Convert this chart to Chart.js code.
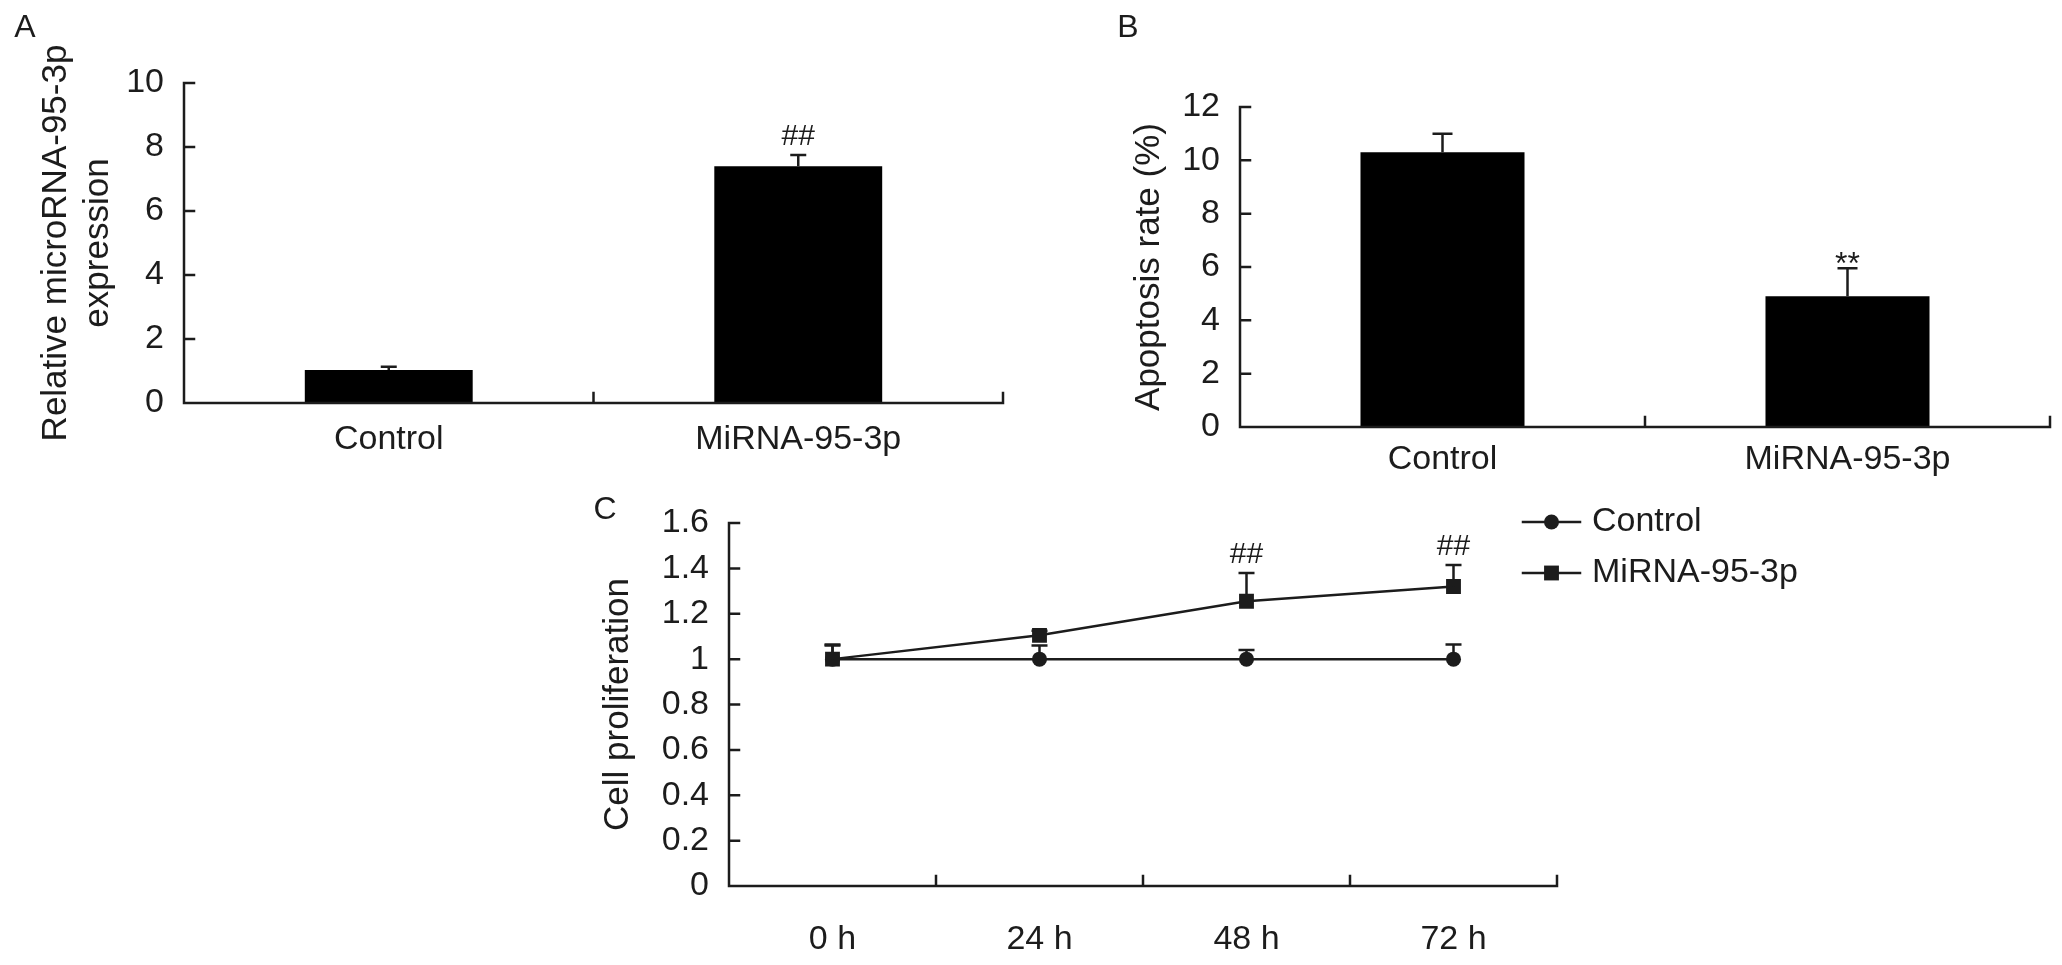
<!DOCTYPE html>
<html>
<head>
<meta charset="utf-8">
<script src="https://cdn.jsdelivr.net/npm/chart.js@4.4.0/dist/chart.umd.min.js"></script>
<style>
  html, body { margin: 0; padding: 0; background: #fff; }
  body { width: 2062px; height: 965px; position: relative; overflow: hidden; }
  canvas { position: absolute; }
  #panelA { left: 0; top: 0; }
  #panelB { left: 1035px; top: 0; }
  #panelC { left: 440px; top: 470px; }
</style>
</head>
<body>
<canvas id="panelA" width="1035" height="500"></canvas>
<canvas id="panelB" width="1027" height="500"></canvas>
<canvas id="panelC" width="1622" height="495"></canvas>
<script>
const FONT = '"Liberation Sans", Arial, Helvetica, sans-serif';
const INK = '#1c1c1c';

// A: relative microRNA-95-3p expression
const groupsA = ['Control', 'MiRNA-95-3p'];
const expressionA = [1.03, 7.4];
const expressionErrA = [0.1, 0.35];

// B: apoptosis rate (%)
const groupsB = ['Control', 'MiRNA-95-3p'];
const apoptosisB = [10.3, 4.9];
const apoptosisErrB = [0.7, 1.05];

// C: cell proliferation over time
const timesC = ['0 h', '24 h', '48 h', '72 h'];
const controlC = [1, 1, 1, 1];
const controlErrC = [0.06, 0.06, 0.04, 0.065];
const mirnaC = [1, 1.105, 1.255, 1.32];
const mirnaErrC = [0.065, 0.02, 0.125, 0.095];

// significance marks: [dataset, point, text]
const marksA = [[0, 1, '##']];
const marksB = [[0, 1, '**']];
const marksC = [[1, 2, '##'], [1, 3, '##']];

Chart.defaults.font.family = FONT;
Chart.defaults.color = INK;

// sigmaplot-ish frame: axis lines with inward ticks, error bars, titles, marks
function sigma(cfg) {
  return {
    id: 'sigma',
    afterDatasetsDraw(chart) {
      const { ctx, scales: { y } } = chart;
      ctx.save();
      ctx.strokeStyle = INK;
      ctx.lineWidth = 2.5;
      chart.data.datasets.forEach((ds, di) => {
        const meta = chart.getDatasetMeta(di);
        meta.data.forEach((el, i) => {
          const top = y.getPixelForValue(ds.data[i] + ds.errors[i]);
          const base = y.getPixelForValue(ds.data[i]);
          ctx.beginPath();
          ctx.moveTo(el.x, base);
          ctx.lineTo(el.x, top);
          ctx.moveTo(el.x - cfg.cap / 2, top);
          ctx.lineTo(el.x + cfg.cap / 2, top);
          ctx.stroke();
        });
      });
      ctx.restore();
    },
    afterDraw(chart) {
      const { ctx, chartArea: a, scales: { x, y } } = chart;
      ctx.save();
      ctx.strokeStyle = INK;
      ctx.lineWidth = 2.5;
      ctx.lineCap = 'square';
      ctx.beginPath();
      ctx.moveTo(a.left, a.top);
      ctx.lineTo(a.left, a.bottom);
      ctx.lineTo(a.right, a.bottom);
      y.ticks.forEach(t => {
        const py = y.getPixelForValue(t.value);
        ctx.moveTo(a.left, py);
        ctx.lineTo(a.left + 10, py);
      });
      const n = x.ticks.length;
      for (let i = 1; i <= n; i++) {
        const px = x.left + x.width * i / n;
        ctx.moveTo(px, a.bottom);
        ctx.lineTo(px, a.bottom - 10);
      }
      ctx.stroke();

      ctx.fillStyle = INK;
      ctx.font = '32px ' + FONT;
      ctx.textAlign = 'center';
      ctx.textBaseline = 'middle';
      ctx.fillText(cfg.letter[0], cfg.letter[1], cfg.letter[2]);

      ctx.font = '35px ' + FONT;
      const midY = (a.top + a.bottom) / 2;
      cfg.title.forEach(([text, dx]) => {
        ctx.save();
        ctx.translate(a.left + dx, midY);
        ctx.rotate(-Math.PI / 2);
        ctx.fillText(text, 0, 0);
        ctx.restore();
      });

      ctx.textBaseline = 'alphabetic';
      cfg.marks.forEach(([di, i, text]) => {
        const ds = chart.data.datasets[di];
        const el = chart.getDatasetMeta(di).data[i];
        const top = y.getPixelForValue(ds.data[i] + ds.errors[i]);
        const star = text.indexOf('*') >= 0;
        ctx.font = (star ? 32 : 30) + 'px ' + FONT;
        ctx.fillText(text, el.x, star ? top + 6 : top - 10);
      });

      if (cfg.legend) {
        const lx = a.right + cfg.legend[0];
        ctx.font = '34px ' + FONT;
        ctx.textAlign = 'left';
        ctx.textBaseline = 'middle';
        chart.data.datasets.forEach((ds, di) => {
          const cy = a.top + cfg.legend[1] + di * cfg.legend[2];
          ctx.beginPath();
          ctx.moveTo(lx, cy);
          ctx.lineTo(lx + 57, cy);
          ctx.lineWidth = ds.borderWidth;
          ctx.stroke();
          Chart.helpers.drawPoint(ctx, { pointStyle: ds.pointStyle, radius: ds.pointRadius, borderWidth: 0, rotation: 0 }, lx + 28.5, cy);
          ctx.fillText(ds.label, lx + 69, cy);
        });
      }
      ctx.restore();
    }
  };
}

function axisX(height, padding) {
  return {
    grid: { display: false, drawTicks: false },
    border: { display: false },
    ticks: { font: { size: 34 }, padding: padding, maxRotation: 0, autoSkip: false },
    afterFit: s => { s.height = height; }
  };
}

function axisY(width, max, step) {
  return {
    min: 0, max: max,
    grid: { display: false, drawTicks: false },
    border: { display: false },
    ticks: { stepSize: step, font: { size: 34 }, padding: 20, callback: v => String(+v.toFixed(1)) },
    afterFit: s => { s.width = width; }
  };
}

const common = {
  responsive: false,
  animation: false,
  devicePixelRatio: 1,
  events: []
};

new Chart(document.getElementById('panelA'), {
  type: 'bar',
  data: {
    labels: groupsA,
    datasets: [{ data: expressionA, errors: expressionErrA, backgroundColor: '#000', barPercentage: 0.41, categoryPercentage: 1 }]
  },
  options: Object.assign({}, common, {
    layout: { padding: { left: 0, right: 32, top: 83, bottom: 0 } },
    plugins: { legend: { display: false }, tooltip: { enabled: false } },
    scales: { x: axisX(97, 16), y: axisY(184, 10, 2) }
  }),
  plugins: [sigma({
    letter: ['A', 25, 28],
    title: [['Relative microRNA-95-3p', -128], ['expression', -86]],
    marks: marksA,
    cap: 16
  })]
});

new Chart(document.getElementById('panelB'), {
  type: 'bar',
  data: {
    labels: groupsB,
    datasets: [{ data: apoptosisB, errors: apoptosisErrB, backgroundColor: '#000', barPercentage: 0.405, categoryPercentage: 1 }]
  },
  options: Object.assign({}, common, {
    layout: { padding: { left: 0, right: 12, top: 107, bottom: 0 } },
    plugins: { legend: { display: false }, tooltip: { enabled: false } },
    scales: { x: axisX(73, 12), y: axisY(205, 12, 2) }
  }),
  plugins: [sigma({
    letter: ['B', 93, 28],
    title: [['Apoptosis rate (%)', -91]],
    marks: marksB,
    cap: 20
  })]
});

new Chart(document.getElementById('panelC'), {
  type: 'line',
  data: {
    labels: timesC,
    datasets: [
      { label: 'Control', data: controlC, errors: controlErrC, order: 1, borderColor: INK, backgroundColor: INK,
        pointBackgroundColor: INK, borderWidth: 2.5, pointStyle: 'circle', pointRadius: 7.5, pointBorderWidth: 0, tension: 0 },
      { label: 'MiRNA-95-3p', data: mirnaC, errors: mirnaErrC, order: 0, borderColor: INK, backgroundColor: INK,
        pointBackgroundColor: INK, borderWidth: 2.5, pointStyle: 'rect', pointRadius: 10.5, pointBorderWidth: 0, tension: 0 }
    ]
  },
  options: Object.assign({}, common, {
    layout: { padding: { left: 0, right: 505, top: 53, bottom: 0 } },
    plugins: { legend: { display: false }, tooltip: { enabled: false } },
    scales: { x: Object.assign(axisX(79, 33), { offset: true }), y: axisY(289, 1.6, 0.2) }
  }),
  plugins: [sigma({
    letter: ['C', 165, 40],
    title: [['Cell proliferation', -111]],
    marks: marksC,
    cap: 16,
    legend: [-34, -1, 51]
  })]
});
</script>
</body>
</html>
